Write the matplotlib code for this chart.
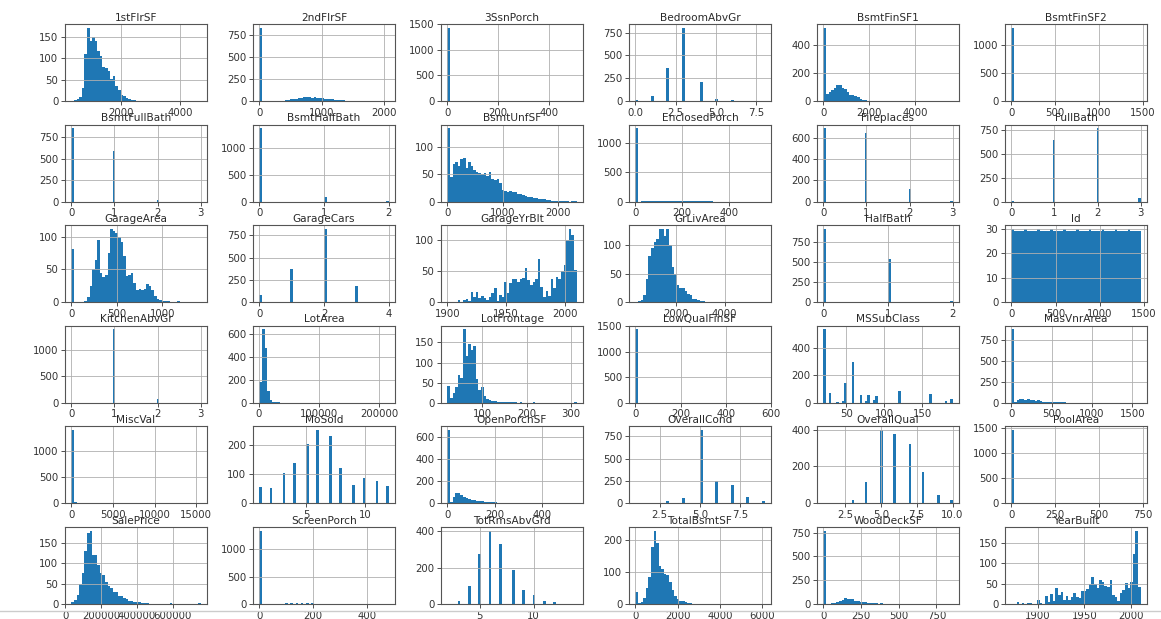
import numpy as np
import matplotlib
matplotlib.use("Agg")
import matplotlib.pyplot as plt
from matplotlib.ticker import MaxNLocator
from matplotlib.lines import Line2D

# ---------------- data: binned columns (range lo..hi, 50 bin counts) ----------------
first_flr_range = (334, 4692)
first_flr_counts = [1, 2, 4, 10, 30, 110, 172, 140, 150, 140, 118, 105, 80, 78, 70, 52, 58, 36, 25, 14,
                    12, 6, 4, 3, 2, 1, 1, 1, 0, 1, 0, 0, 0, 1, 0, 0, 0, 0, 0, 0,
                    0, 0, 0, 0, 0, 0, 0, 0, 0, 1]
second_flr_range = (0, 2065)
second_flr_counts = [829, 0, 0, 0, 0, 0, 1, 2, 3, 5, 8, 12, 18, 20, 28, 30, 38, 42, 40, 45,
                     38, 40, 35, 30, 35, 28, 25, 20, 18, 15, 12, 10, 8, 5, 4, 3, 2, 2, 1, 1,
                     1, 0, 1, 0, 0, 0, 0, 0, 0, 1]
bsmt_fin1_range = (0, 5644)
bsmt_fin1_counts = [520, 50, 65, 80, 95, 115, 110, 95, 85, 65, 45, 45, 35, 25, 12, 8, 4, 2, 1, 1,
                    1, 0, 0, 0, 0, 0, 0, 0, 0, 0, 0, 0, 0, 0, 0, 0, 0, 0, 0, 0,
                    0, 0, 0, 0, 0, 0, 0, 0, 0, 1]
bsmt_fin2_range = (0, 1474)
bsmt_fin2_counts = [1300, 3, 5, 8, 8, 6, 8, 5, 6, 5, 4, 5, 3, 4, 3, 2, 3, 2, 3, 2,
                    2, 1, 2, 1, 1, 1, 1, 0, 1, 0, 1, 0, 0, 0, 1, 0, 0, 0, 0, 0,
                    0, 0, 0, 0, 0, 0, 0, 0, 0, 1]
bsmt_unf_range = (0, 2336)
bsmt_unf_counts = [135, 45, 70, 72, 65, 78, 80, 62, 72, 65, 58, 55, 52, 50, 52, 48, 55, 42, 40, 42,
                   35, 22, 20, 18, 20, 17, 18, 14, 14, 12, 10, 9, 8, 7, 6, 5, 4, 4, 3, 3,
                   2, 2, 2, 1, 1, 2, 1, 0, 1, 1]
encl_porch_range = (0, 552)
encl_porch_counts = [1252, 1, 3, 5, 6, 5, 5, 4, 8, 10, 12, 8, 6, 4, 5, 4, 6, 3, 5, 8,
                     10, 6, 4, 5, 4, 3, 3, 2, 3, 2, 1, 1, 0, 0, 1, 0, 1, 0, 0, 0,
                     0, 0, 0, 0, 0, 0, 0, 0, 0, 1]
garage_area_range = (0, 1418)
garage_area_counts = [81, 0, 0, 0, 0, 2, 8, 25, 50, 65, 95, 45, 38, 42, 75, 112, 108, 105, 100, 92,
                      70, 40, 42, 45, 30, 18, 20, 18, 20, 28, 25, 18, 10, 5, 3, 2, 2, 2, 1, 1,
                      1, 2, 1, 1, 1, 1, 1, 0, 0, 1]
garage_yr_range = (1900, 2010)
garage_yr_counts = [1, 0, 1, 1, 3, 0, 4, 5, 2, 17, 8, 16, 7, 10, 7, 3, 9, 14, 23, 2,
                    11, 9, 32, 15, 31, 38, 38, 32, 37, 39, 55, 35, 27, 32, 38, 69, 24, 8, 18, 10,
                    38, 23, 40, 38, 50, 60, 100, 118, 108, 52]
gr_liv_range = (334, 5642)
gr_liv_counts = [1, 2, 3, 12, 40, 80, 95, 105, 110, 128, 128, 115, 128, 100, 62, 50, 30, 25, 25, 20,
                 15, 12, 5, 6, 4, 2, 2, 1, 1, 1, 0, 1, 0, 1, 0, 0, 1, 1, 0, 0,
                 1, 0, 0, 0, 0, 0, 0, 0, 0, 1]
id_range = (1, 1460)
id_counts = [30, 29, 29, 29, 29, 30, 29, 29, 29, 29, 30, 29, 29, 29, 29, 30, 29, 29, 29, 29,
             30, 29, 29, 29, 29, 30, 29, 29, 29, 29, 30, 29, 29, 29, 29, 30, 29, 29, 29, 29,
             30, 29, 29, 29, 29, 30, 29, 29, 29, 29]
lot_area_range = (1300, 215245)
lot_area_counts = [180, 640, 480, 100, 25, 10, 5, 3, 2, 1, 1, 1, 0, 1, 0, 1, 0, 0, 0, 0,
                   0, 0, 0, 0, 0, 1, 0, 0, 0, 0, 0, 0, 0, 0, 0, 1, 0, 1, 0, 0,
                   0, 0, 0, 0, 0, 0, 0, 0, 0, 1]
lot_front_range = (21, 313)
lot_front_counts = [42, 11, 25, 38, 70, 62, 182, 116, 147, 130, 140, 60, 32, 40, 18, 10, 8, 5, 4, 3,
                    2, 3, 2, 1, 2, 1, 1, 0, 1, 0, 0, 0, 0, 1, 0, 0, 0, 0, 0, 0,
                    0, 0, 0, 0, 0, 0, 0, 0, 0, 2]
mas_vnr_range = (0, 1600)
mas_vnr_counts = [870, 15, 35, 40, 40, 35, 40, 30, 30, 25, 28, 20, 15, 12, 10, 8, 8, 6, 6, 4,
                  4, 3, 2, 2, 2, 1, 2, 1, 1, 0, 1, 1, 0, 0, 0, 1, 0, 0, 0, 0,
                  0, 0, 0, 0, 0, 0, 0, 0, 0, 1]
open_porch_range = (0, 547)
open_porch_counts = [660, 15, 60, 90, 95, 75, 60, 50, 40, 35, 30, 25, 22, 18, 15, 14, 12, 10, 12, 8,
                     8, 6, 5, 5, 6, 4, 3, 2, 2, 1, 1, 2, 1, 0, 1, 0, 0, 0, 1, 0,
                     0, 0, 0, 1, 0, 0, 0, 0, 0, 1]
sale_price_range = (34900, 755000)
sale_price_counts = [4, 9, 23, 48, 75, 130, 175, 180, 120, 120, 95, 75, 70, 55, 45, 40, 30, 30, 20, 20,
                     15, 12, 8, 8, 6, 5, 4, 3, 3, 2, 1, 1, 1, 0, 1, 1, 1, 0, 2, 0,
                     1, 1, 0, 0, 0, 0, 0, 0, 0, 2]
total_bsmt_range = (0, 6110)
total_bsmt_counts = [38, 2, 5, 20, 50, 85, 180, 230, 190, 120, 110, 95, 90, 70, 45, 25, 15, 10, 8, 5,
                     3, 2, 1, 1, 0, 1, 1, 0, 0, 0, 0, 0, 0, 0, 0, 0, 0, 0, 0, 0,
                     0, 0, 0, 0, 0, 0, 0, 0, 0, 1]
wood_deck_range = (0, 857)
wood_deck_counts = [770, 3, 5, 10, 15, 25, 30, 40, 65, 55, 50, 55, 35, 30, 25, 20, 18, 12, 15, 8,
                    6, 5, 6, 3, 2, 1, 1, 0, 1, 1, 0, 1, 0, 0, 0, 0, 0, 0, 0, 0,
                    0, 0, 1, 0, 0, 0, 0, 0, 0, 1]
year_built_range = (1872, 2010)
year_built_counts = [1, 1, 4, 1, 2, 0, 2, 3, 0, 1, 10, 2, 1, 19, 5, 25, 8, 39, 22, 29,
                     11, 19, 9, 17, 27, 18, 14, 31, 31, 36, 48, 67, 49, 39, 59, 54, 44, 41, 59, 21,
                     18, 8, 26, 35, 52, 40, 55, 122, 180, 42]

# ---------------- data: discrete / sparse columns (values and their counts) ----------------
ssn_porch_vals = [0, 23, 96, 140, 153, 168, 180, 196, 216, 238, 245, 290, 304, 320, 407, 508]
ssn_porch_cnts = [1436, 1, 1, 2, 3, 2, 3, 1, 2, 1, 1, 1, 1, 1, 1, 1]
bedroom_vals = [0, 1, 2, 3, 4, 5, 6, 8]
bedroom_cnts = [6, 50, 358, 804, 213, 21, 7, 1]
bsmt_full_vals = [0, 1, 2, 3]
bsmt_full_cnts = [856, 588, 15, 1]
bsmt_half_vals = [0, 1, 2]
bsmt_half_cnts = [1378, 80, 2]
fireplaces_vals = [0, 1, 2, 3]
fireplaces_cnts = [690, 650, 115, 5]
full_bath_vals = [0, 1, 2, 3]
full_bath_cnts = [9, 650, 768, 33]
garage_cars_vals = [0, 1, 2, 3, 4]
garage_cars_cnts = [81, 369, 824, 181, 5]
half_bath_vals = [0, 1, 2]
half_bath_cnts = [913, 535, 12]
kitchen_vals = [0, 1, 2, 3]
kitchen_cnts = [1, 1392, 65, 2]
low_qual_vals = [0, 80, 120, 156, 205, 232, 360, 397, 420, 481, 515, 572]
low_qual_cnts = [1434, 3, 2, 2, 2, 2, 2, 2, 2, 1, 1, 1]
ms_sub_vals = [20, 30, 40, 45, 50, 60, 70, 75, 80, 85, 90, 120, 160, 180, 190]
ms_sub_cnts = [536, 69, 4, 12, 144, 299, 60, 16, 58, 20, 52, 87, 63, 10, 30]
misc_val_vals = [0, 400, 500, 600, 700, 1200, 2000, 2500, 3500, 8300, 15500]
misc_val_cnts = [1408, 11, 9, 4, 5, 2, 4, 1, 1, 1, 1]
mo_sold_vals = [1, 2, 3, 4, 5, 6, 7, 8, 9, 10, 11, 12]
mo_sold_cnts = [58, 52, 106, 141, 204, 253, 234, 122, 63, 89, 79, 59]
overall_cond_vals = [1, 2, 3, 4, 5, 6, 7, 8, 9]
overall_cond_cnts = [1, 5, 25, 57, 821, 252, 205, 72, 22]
overall_qual_vals = [1, 2, 3, 4, 5, 6, 7, 8, 9, 10]
overall_qual_cnts = [2, 3, 20, 116, 397, 374, 319, 168, 43, 18]
pool_vals = [0, 480, 512, 519, 555, 576, 648, 738]
pool_cnts = [1453, 1, 1, 1, 1, 1, 1, 1]
screen_vals = [0, 60, 90, 100, 120, 140, 160, 180, 200, 220, 260, 300, 380, 480]
screen_cnts = [1344, 3, 8, 10, 14, 12, 16, 15, 12, 8, 7, 6, 3, 1]
tot_rms_vals = [2, 3, 4, 5, 6, 7, 8, 9, 10, 11, 12, 14]
tot_rms_cnts = [1, 17, 97, 275, 402, 329, 187, 75, 47, 18, 11, 1]

panels = [
    ("1stFlrSF", "binned", first_flr_range, first_flr_counts),
    ("2ndFlrSF", "binned", second_flr_range, second_flr_counts),
    ("3SsnPorch", "values", ssn_porch_vals, ssn_porch_cnts),
    ("BedroomAbvGr", "values", bedroom_vals, bedroom_cnts),
    ("BsmtFinSF1", "binned", bsmt_fin1_range, bsmt_fin1_counts),
    ("BsmtFinSF2", "binned", bsmt_fin2_range, bsmt_fin2_counts),
    ("BsmtFullBath", "values", bsmt_full_vals, bsmt_full_cnts),
    ("BsmtHalfBath", "values", bsmt_half_vals, bsmt_half_cnts),
    ("BsmtUnfSF", "binned", bsmt_unf_range, bsmt_unf_counts),
    ("EnclosedPorch", "binned", encl_porch_range, encl_porch_counts),
    ("Fireplaces", "values", fireplaces_vals, fireplaces_cnts),
    ("FullBath", "values", full_bath_vals, full_bath_cnts),
    ("GarageArea", "binned", garage_area_range, garage_area_counts),
    ("GarageCars", "values", garage_cars_vals, garage_cars_cnts),
    ("GarageYrBlt", "binned", garage_yr_range, garage_yr_counts),
    ("GrLivArea", "binned", gr_liv_range, gr_liv_counts),
    ("HalfBath", "values", half_bath_vals, half_bath_cnts),
    ("Id", "binned", id_range, id_counts),
    ("KitchenAbvGr", "values", kitchen_vals, kitchen_cnts),
    ("LotArea", "binned", lot_area_range, lot_area_counts),
    ("LotFrontage", "binned", lot_front_range, lot_front_counts),
    ("LowQualFinSF", "values", low_qual_vals, low_qual_cnts),
    ("MSSubClass", "values", ms_sub_vals, ms_sub_cnts),
    ("MasVnrArea", "binned", mas_vnr_range, mas_vnr_counts),
    ("MiscVal", "values", misc_val_vals, misc_val_cnts),
    ("MoSold", "values", mo_sold_vals, mo_sold_cnts),
    ("OpenPorchSF", "binned", open_porch_range, open_porch_counts),
    ("OverallCond", "values", overall_cond_vals, overall_cond_cnts),
    ("OverallQual", "values", overall_qual_vals, overall_qual_cnts),
    ("PoolArea", "values", pool_vals, pool_cnts),
    ("SalePrice", "binned", sale_price_range, sale_price_counts),
    ("ScreenPorch", "values", screen_vals, screen_cnts),
    ("TotRmsAbvGrd", "values", tot_rms_vals, tot_rms_cnts),
    ("TotalBsmtSF", "binned", total_bsmt_range, total_bsmt_counts),
    ("WoodDeckSF", "binned", wood_deck_range, wood_deck_counts),
    ("YearBuilt", "binned", year_built_range, year_built_counts),
]

# ---------------- layout / style ----------------
W, H = 1161, 619
fig = plt.figure(figsize=(W / 100, H / 100), dpi=100)
fig.patch.set_facecolor("white")

BAR = "#1f77b4"
FS = 7.3
col_left0, col_pitch, ax_w = 65, 188, 142
row_top0, row_pitch, ax_h = 24, 100.6, 77

for k, (name, kind, a, b) in enumerate(panels):
    r, c = divmod(k, 6)
    left = col_left0 + c * col_pitch
    top = row_top0 + r * row_pitch
    ax = fig.add_axes([left / W, 1 - (top + ax_h) / H, ax_w / W, ax_h / H])
    if kind == "binned":
        lo, hi = a
        edges = np.linspace(lo, hi, 51)
        centers = 0.5 * (edges[:-1] + edges[1:])
        ax.hist(centers, bins=edges, weights=b, color=BAR)
    else:
        ax.hist(a, bins=50, range=(min(a), max(a)), weights=b, color=BAR)
    ax.set_title(name, fontsize=FS + 0.3, pad=2.5, color="#2a2a2a")
    ax.grid(True, color="#b0b0b0", linewidth=0.6)
    ax.xaxis.set_major_locator(MaxNLocator(nbins=4, steps=[1, 2, 2.5, 5, 10]))
    ax.yaxis.set_major_locator(MaxNLocator(nbins=4, steps=[1, 2, 2.5, 5, 10]))
    ax.tick_params(labelsize=FS, length=2.6, width=0.6, pad=2.2, colors="#333333")
    for s in ax.spines.values():
        s.set_linewidth(0.8)
        s.set_color("#555555")

fig.add_artist(Line2D([0, 1], [1 - 611 / H, 1 - 611 / H], transform=fig.transFigure,
                      color="#cccccc", linewidth=1.0))

fig.savefig("out.png", dpi=100, facecolor="white")
